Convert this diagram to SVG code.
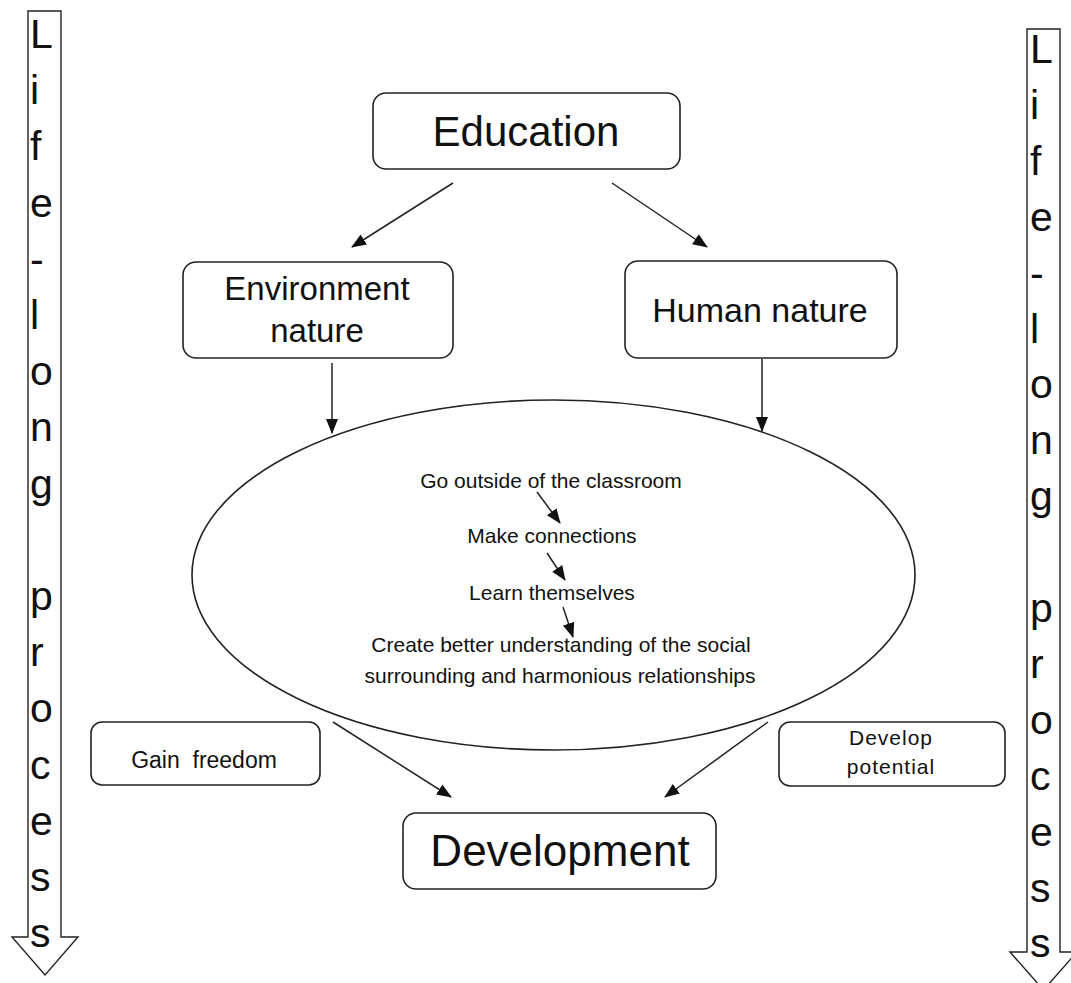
<svg xmlns="http://www.w3.org/2000/svg" width="1071" height="983" viewBox="0 0 1071 983">
<style>
.box{fill:#fff;stroke:#222;stroke-width:1.6}
.t{font-family:"Liberation Sans",Arial,sans-serif;fill:#111;text-anchor:middle}
.ll{font-family:"Liberation Sans",Arial,sans-serif;fill:#111;font-size:41px}
.con{stroke:#222;stroke-width:1.5;fill:none;marker-end:url(#ah)}
.big{stroke:#222;stroke-width:1.4;fill:#fff}
</style>
<defs>
<marker id="ah" markerUnits="userSpaceOnUse" markerWidth="16" markerHeight="14" refX="14" refY="6" orient="auto">
<path d="M0,0 L15,6 L0,12 Z" fill="#111"/>
</marker>
</defs>
<rect width="1071" height="983" fill="#fff"/>
<g id="lifelong-left">
<path class="big" d="M28,11 H61 V937 H78 L45,975 L12,937 H28 Z"/>
<text class="ll"><tspan x="30" y="48">L</tspan><tspan x="30" y="104">i</tspan><tspan x="30" y="160">f</tspan><tspan x="30" y="217">e</tspan><tspan x="30" y="273">-</tspan><tspan x="30" y="329">l</tspan><tspan x="30" y="385">o</tspan><tspan x="30" y="441">n</tspan><tspan x="30" y="498">g</tspan><tspan x="30" y="610">p</tspan><tspan x="30" y="666">r</tspan><tspan x="30" y="722">o</tspan><tspan x="30" y="779">c</tspan><tspan x="30" y="835">e</tspan><tspan x="30" y="891">s</tspan><tspan x="30" y="947">s</tspan></text>
</g>
<g id="lifelong-right">
<path class="big" d="M1027,29 H1060 V952 H1077 L1043.5,990 L1010,952 H1027 Z"/>
<text class="ll"><tspan x="1030" y="63">L</tspan><tspan x="1030" y="119">i</tspan><tspan x="1030" y="175">f</tspan><tspan x="1030" y="231">e</tspan><tspan x="1030" y="287">-</tspan><tspan x="1030" y="343">l</tspan><tspan x="1030" y="398">o</tspan><tspan x="1030" y="454">n</tspan><tspan x="1030" y="510">g</tspan><tspan x="1030" y="622">p</tspan><tspan x="1030" y="678">r</tspan><tspan x="1030" y="734">o</tspan><tspan x="1030" y="790">c</tspan><tspan x="1030" y="846">e</tspan><tspan x="1030" y="902">s</tspan><tspan x="1030" y="957">s</tspan></text>
</g>
<g id="education">
<rect class="box" x="373" y="93" width="307" height="76" rx="13"/>
<text class="t" x="526" y="146" font-size="42">Education</text>
</g>
<g id="environment-nature">
<rect class="box" x="183" y="262" width="270" height="96" rx="13"/>
<text class="t" x="317" y="300" font-size="33">Environment</text>
<text class="t" x="317" y="342" font-size="33">nature</text>
</g>
<g id="human-nature">
<rect class="box" x="625" y="261" width="272" height="97" rx="13"/>
<text class="t" x="760" y="322" font-size="34">Human nature</text>
</g>
<g id="process">
<ellipse cx="553.5" cy="575" rx="361.5" ry="175" fill="#fff" stroke="#222" stroke-width="1.6"/>
<text class="t" x="551" y="488" font-size="21">Go outside of the classroom</text>
<text class="t" x="552" y="543" font-size="21">Make connections</text>
<text class="t" x="552" y="600" font-size="21">Learn themselves</text>
<text class="t" x="561" y="652" font-size="21">Create better understanding of the social</text>
<text class="t" x="560" y="683" font-size="21">surrounding and harmonious relationships</text>
</g>
<g id="gain-freedom">
<rect class="box" x="91" y="722" width="229" height="63" rx="11"/>
<text class="t" x="204" y="768" font-size="23" xml:space="preserve">Gain  freedom</text>
</g>
<g id="develop-potential">
<rect class="box" x="779" y="722" width="226" height="64" rx="11"/>
<text class="t" x="891" y="745" font-size="21" letter-spacing="1">Develop</text>
<text class="t" x="891" y="774" font-size="21" letter-spacing="1">potential</text>
</g>
<g id="development">
<rect class="box" x="403" y="813" width="313" height="76" rx="13"/>
<text class="t" x="560" y="866" font-size="44">Development</text>
</g>
<g id="connectors">
<line class="con" x1="453" y1="183" x2="352" y2="247"/>
<line class="con" x1="612" y1="183" x2="707" y2="247"/>
<line class="con" x1="332" y1="363" x2="332" y2="433"/>
<line class="con" x1="762" y1="359" x2="762" y2="431"/>
<line class="con" x1="537" y1="492" x2="560" y2="523"/>
<line class="con" x1="547" y1="553" x2="565" y2="580"/>
<line class="con" x1="563" y1="607" x2="573" y2="637"/>
<line class="con" x1="333" y1="722" x2="451" y2="797"/>
<line class="con" x1="768" y1="722" x2="665" y2="797"/>
</g>
</svg>
